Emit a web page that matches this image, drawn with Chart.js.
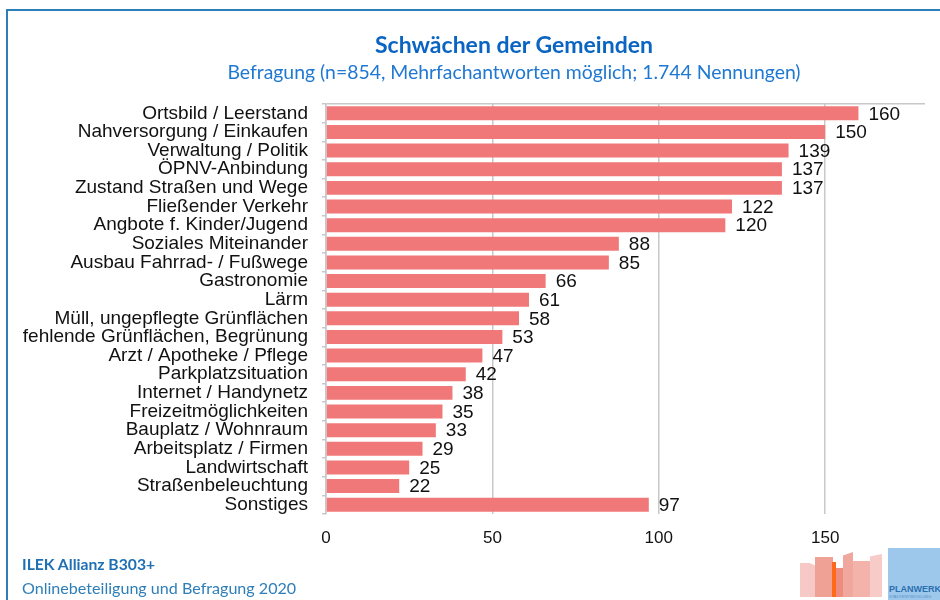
<!DOCTYPE html>
<html>
<head>
<meta charset="utf-8">
<script src="https://cdn.jsdelivr.net/npm/chart.js"></script>
<style>
  html, body { margin:0; padding:0; background:#fff; }
  #wrap { position:relative; width:940px; height:600px; overflow:hidden; background:#fff; }
  #frame { position:absolute; left:6px; top:9px; width:940px; height:600px; border-left:2px solid #2E7EB8; border-top:2px solid #2E7EB8; box-sizing:border-box; }
  canvas { position:absolute; left:0; top:0; }
  .t { position:absolute; font-family:Lato, "Open Sans", sans-serif; white-space:nowrap; }
  #title { left:0; width:1028px; text-align:center; top:30px; font-size:23px; font-weight:bold; color:#0A64C2; }
  #sub { left:0; width:1028px; text-align:center; top:60px; font-size:19.4px; color:#1F78D1; }
  #f1 { left:22px; top:555px; font-size:15.7px; font-weight:bold; color:#1F6FB5; }
  #f2 { left:22px; top:578px; font-size:16.1px; color:#2E7EB8; }
  .b { position:absolute; }
  #pw { position:absolute; left:888px; top:548px; width:52px; height:52px; background:#9DC8EC; }
  #pw1 { position:absolute; left:1px; top:36px; font-family:"Liberation Sans", Arial, sans-serif; font-weight:bold; font-size:9px; color:#2A6FB0; }
  #pw2 { position:absolute; left:1px; top:46px; font-family:"Liberation Sans", Arial, sans-serif; font-size:4px; color:#5A90C8; }
</style>
</head>
<body>
<div id="wrap">
  <div id="frame"></div>
  <canvas id="c" width="940" height="600"></canvas>
  <div class="t" id="title">Schwächen der Gemeinden</div>
  <div class="t" id="sub">Befragung (n=854, Mehrfachantworten möglich; 1.744 Nennungen)</div>
  <div class="t" id="f1">ILEK Allianz B303+</div>
  <div class="t" id="f2">Onlinebeteiligung und Befragung 2020</div>
  <div class="b" style="left:800px;top:563px;width:16px;height:34px;background:#F6C9C6;clip-path:polygon(0 0,60% 0,100% 8%,100% 100%,0 100%);"></div>
  <div class="b" style="left:815px;top:557px;width:18px;height:40px;background:#EFA196;"></div>
  <div class="b" style="left:832px;top:562px;width:4px;height:35px;background:#FF6A1A;"></div>
  <div class="b" style="left:836px;top:568px;width:8px;height:29px;background:#EE8C80;"></div>
  <div class="b" style="left:843px;top:552px;width:10px;height:45px;background:#F0A89E;clip-path:polygon(0 8%,100% 0,100% 100%,0 100%);"></div>
  <div class="b" style="left:853px;top:561px;width:17px;height:36px;background:#F3B3AA;"></div>
  <div class="b" style="left:870px;top:554px;width:12px;height:43px;background:#F6CBC8;clip-path:polygon(0 6%,100% 0,100% 100%,0 100%);"></div>
  <div id="pw"><div id="pw1">PLANWERK</div><div id="pw2">STADTENTWICKLUNG</div></div>
</div>
<script>
const categories = [
  "Ortsbild / Leerstand",
  "Nahversorgung / Einkaufen",
  "Verwaltung / Politik",
  "ÖPNV-Anbindung",
  "Zustand Straßen und Wege",
  "Fließender Verkehr",
  "Angbote f. Kinder/Jugend",
  "Soziales Miteinander",
  "Ausbau Fahrrad- / Fußwege",
  "Gastronomie",
  "Lärm",
  "Müll, ungepflegte Grünflächen",
  "fehlende Grünflächen, Begrünung",
  "Arzt / Apotheke / Pflege",
  "Parkplatzsituation",
  "Internet / Handynetz",
  "Freizeitmöglichkeiten",
  "Bauplatz / Wohnraum",
  "Arbeitsplatz / Firmen",
  "Landwirtschaft",
  "Straßenbeleuchtung",
  "Sonstiges"
];
const values = [160,150,139,137,137,122,120,88,85,66,61,58,53,47,42,38,35,33,29,25,22,97];
const axisMin = 0, axisMax = 180, axisStep = 50;

const valueLabels = {
  id: 'valueLabels',
  afterDatasetsDraw(chart) {
    const ctx = chart.ctx;
    const meta = chart.getDatasetMeta(0);
    ctx.save();
    ctx.font = '19px "Liberation Sans", Arial, sans-serif';
    ctx.fillStyle = '#111';
    ctx.textAlign = 'left';
    ctx.textBaseline = 'middle';
    meta.data.forEach((bar, i) => {
      ctx.fillText(String(values[i]), bar.x + 10, bar.y + 1);
    });
    ctx.restore();
  }
};

new Chart(document.getElementById('c'), {
  type: 'bar',
  data: {
    labels: categories,
    datasets: [{
      data: values,
      backgroundColor: '#F07878',
      borderWidth: 0,
      barPercentage: 0.75,
      categoryPercentage: 1.0
    }]
  },
  options: {
    indexAxis: 'y',
    responsive: false,
    animation: false,
    devicePixelRatio: 1,
    layout: { padding: { top: 104, right: 15, bottom: 0, left: 0 } },
    plugins: { legend: { display: false }, tooltip: { enabled: false } },
    scales: {
      x: {
        min: axisMin, max: axisMax,
        ticks: {
          stepSize: axisStep, includeBounds: false,
          color: '#111', padding: 14,
          font: { family: '"Liberation Sans", Arial, sans-serif', size: 17 }
        },
        grid: { color: '#C8C8C8', lineWidth: 1.5, drawTicks: false },
        border: { display: false },
        afterFit(scale) { scale.height = 86; }
      },
      y: {
        ticks: {
          autoSkip: false, color: '#111', padding: 14,
          font: { family: '"Liberation Sans", Arial, sans-serif', size: 19 }
        },
        grid: {
          drawOnChartArea: true, drawTicks: true, tickLength: 4,
          color: (c) => c.index === 0 ? '#C8C8C8' : 'rgba(0,0,0,0)',
          tickColor: '#C8C8C8', lineWidth: 1.5
        },
        border: { display: true, color: '#C8C8C8', width: 1.5 },
        afterFit(scale) { scale.width = 326; }
      }
    }
  },
  plugins: [valueLabels]
});
</script>
</body>
</html>
